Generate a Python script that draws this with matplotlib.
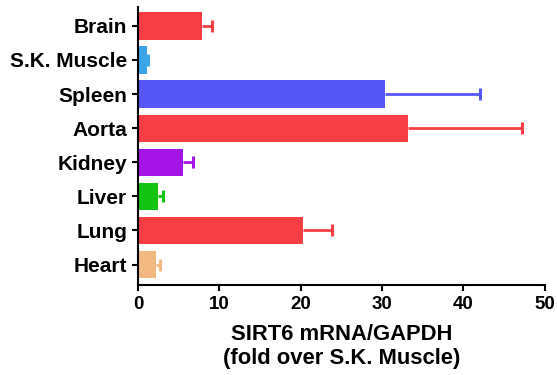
import numpy as np
import matplotlib.pyplot as plt

plt.rcParams['font.family'] = ['Liberation Sans', 'DejaVu Sans']
plt.rcParams['font.weight'] = 'bold'

# tissues, top to bottom
tissues = ['Brain', 'S.K. Muscle', 'Spleen', 'Aorta', 'Kidney', 'Liver', 'Lung', 'Heart']
means = [7.8, 1.1, 30.3, 33.2, 5.5, 2.5, 20.3, 2.2]
upper = [9.1, 1.2, 42.0, 47.2, 6.8, 3.0, 23.9, 2.7]
colors = ['#f83e45', '#3aa6e8', '#5757f5', '#f83e45', '#a414e4', '#12c412', '#f83e45', '#f2b880']

fig = plt.figure(figsize=(5.57, 3.75), dpi=100)
ax = fig.add_axes([0.248, 0.24, 0.73, 0.741])

y = np.arange(len(tissues))[::-1]
ax.barh(y, means, height=0.8, color=colors, zorder=2)
# only the upper whisker, drawn behind the bar
for yi, m, u, c in zip(y, means, upper, colors):
    ax.hlines(yi, m, u, color=c, lw=2, zorder=1)
    ax.plot(u, yi, marker='|', ms=9, mew=2.2, color=c, zorder=1)

ax.set_xlim(0, 50)
ax.set_ylim(-0.6, 7.55)
ax.set_xticks([0, 10, 20, 30, 40, 50])
ax.set_yticks(y)
ax.set_yticklabels(tissues)
ax.tick_params(axis='both', width=1.5, length=4.5, labelsize=15)
ax.tick_params(axis='x', labelsize=13.5)
for s in ['top', 'right']:
    ax.spines[s].set_visible(False)
for s in ['left', 'bottom']:
    ax.spines[s].set_linewidth(1.5)
ax.set_xlabel('SIRT6 mRNA/GAPDH\n(fold over S.K. Muscle)', fontsize=15.8,
              fontweight='bold', labelpad=8)

fig.savefig('out.png', dpi=100)
